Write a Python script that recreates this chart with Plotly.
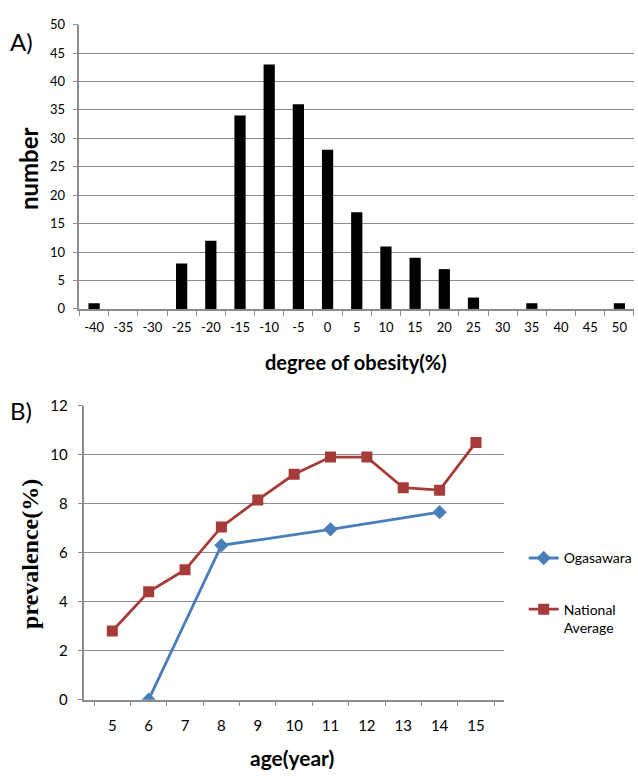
import plotly.graph_objects as go

# ---- Panel A data ----
obesity_bins = ["-40", "-35", "-30", "-25", "-20", "-15", "-10", "-5", "0", "5",
                "10", "15", "20", "25", "30", "35", "40", "45", "50"]
counts = [1, 0, 0, 8, 12, 34, 43, 36, 28, 17, 11, 9, 7, 2, 0, 1, 0, 0, 1]

# ---- Panel B data ----
ages = ["5", "6", "7", "8", "9", "10", "11", "12", "13", "14", "15"]
ogasawara = [None, 0.0, None, 6.3, None, None, 6.95, None, None, 7.65, None]
national = [2.8, 4.4, 5.3, 7.05, 8.15, 9.2, 9.9, 9.9, 8.65, 8.55, 10.5]

W, H = 638, 778
FONT = "Lato, Open Sans, sans-serif"
GRID = "#8c8c8c"
BLUE = "#4A7EBB"
RED = "#A63C39"

def px_x(x):
    return x / W

def px_y(y):
    return 1 - y / H

fig = go.Figure()

fig.add_trace(go.Bar(x=obesity_bins, y=counts, marker=dict(color="black", line=dict(width=0)),
                     showlegend=False, xaxis="x", yaxis="y"))

fig.add_trace(go.Scatter(x=ages, y=ogasawara, mode="lines+markers", name="Ogasawara",
                         connectgaps=True, legendgroup="a",
                         line=dict(color=BLUE, width=2.8),
                         marker=dict(symbol="diamond", size=11, color=BLUE),
                         xaxis="x2", yaxis="y2"))
fig.add_trace(go.Scatter(x=ages, y=national, mode="lines+markers", name="National<br>Average",
                         legendgroup="b",
                         line=dict(color=RED, width=2.8),
                         marker=dict(symbol="square", size=11, color=RED),
                         xaxis="x2", yaxis="y2"))

axis_common = dict(showline=True, linecolor=GRID, linewidth=1.5, ticks="outside",
                   tickcolor=GRID, ticklen=5, tickwidth=1.2, tickangle=0,
                   zeroline=False)
fontA = dict(family=FONT, size=13, color="black")
fontB = dict(family=FONT, size=15, color="black")

fig.update_layout(
    width=W, height=H,
    margin=dict(l=0, r=0, t=0, b=0),
    paper_bgcolor="white", plot_bgcolor="white",
    bargap=0.615,
    xaxis=dict(domain=[px_x(80), 1.0], anchor="y", type="category", ticklabelstandoff=6,
               tickson="boundaries", showgrid=False, tickfont=fontA, **axis_common),
    yaxis=dict(domain=[px_y(306), px_y(15)], anchor="x", range=[0, 50], dtick=5,
               ticklabelstandoff=5,
               showgrid=True, gridcolor=GRID, gridwidth=1.2, tickfont=fontA, **axis_common),
    xaxis2=dict(domain=[px_x(85), px_x(507)], anchor="y2", type="category",
                ticklabelstandoff=12,
                tickson="boundaries", showgrid=False, tickfont=fontB, **axis_common),
    yaxis2=dict(domain=[px_y(706), px_y(405)], anchor="x2", range=[0, 12], dtick=2,
                ticklabelstandoff=7,
                showgrid=True, gridcolor=GRID, gridwidth=1.2, tickfont=fontB, **axis_common),
    legend=dict(x=px_x(527), y=px_y(545), xanchor="left", yanchor="top",
                font=dict(family=FONT, size=14, color="black"),
                tracegroupgap=30, valign="top", itemwidth=30,
                bgcolor="rgba(0,0,0,0)"),
    annotations=[
        dict(text="A)", x=px_x(8), y=px_y(32), xref="paper", yref="paper",
             xanchor="left", yanchor="middle", showarrow=False,
             font=dict(family=FONT, size=24, color="black")),
        dict(text="number", x=px_x(28), y=px_y(162), xref="paper", yref="paper",
             xanchor="center", yanchor="middle", showarrow=False, textangle=-90,
             font=dict(family=FONT, size=24, color="black", weight="bold")),
        dict(text="degree of obesity(%)", x=px_x(358), y=px_y(360), xref="paper", yref="paper",
             xanchor="center", yanchor="middle", showarrow=False,
             font=dict(family=FONT, size=20, color="black", weight="bold")),
        dict(text="B)", x=px_x(8), y=px_y(410), xref="paper", yref="paper",
             xanchor="left", yanchor="middle", showarrow=False,
             font=dict(family=FONT, size=24, color="black")),
        dict(text="prevalence(%)", x=px_x(30), y=px_y(557), xref="paper", yref="paper",
             xanchor="center", yanchor="middle", showarrow=False, textangle=-90,
             font=dict(family="Liberation Serif, Times New Roman, serif", size=24,
                       color="black", weight="bold")),
        dict(text="age(year)", x=px_x(294), y=px_y(765), xref="paper", yref="paper",
             xanchor="center", yanchor="middle", showarrow=False,
             font=dict(family=FONT, size=21, color="black", weight="bold")),
    ],
)

fig.write_html("out.html")
